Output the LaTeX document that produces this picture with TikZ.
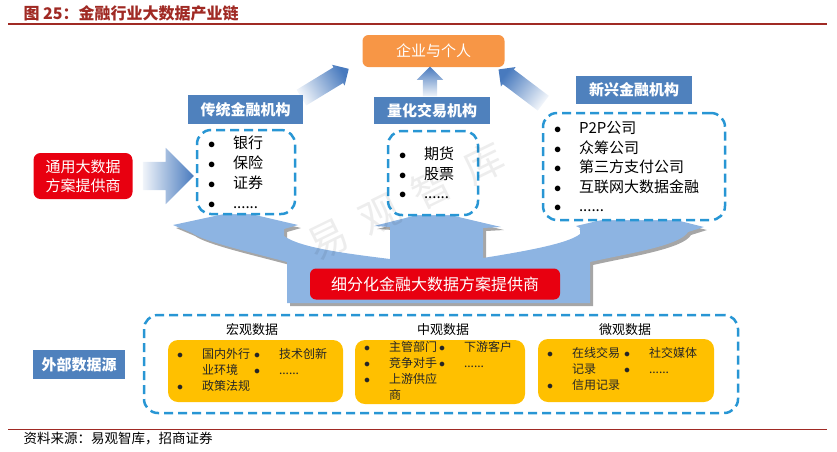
\documentclass[tikz,border=0pt]{standalone}
\usepackage{fontspec}
\setmainfont{Noto Sans CJK SC}
\usepackage{xcolor}
\usetikzlibrary{calc,shapes.arrows,shadows}

\definecolor{titlered}{RGB}{160,42,36}
\definecolor{lblblue}{RGB}{79,129,189}
\definecolor{dashblue}{RGB}{40,150,212}
\definecolor{forkblue}{RGB}{141,180,226}
\definecolor{flowblue}{RGB}{72,122,190}
\definecolor{userorange}{RGB}{247,150,70}
\definecolor{provred}{RGB}{232,0,16}
\definecolor{datayellow}{RGB}{255,192,0}

\newcommand\itm{\makebox[25pt][l]{$\bullet$}}

\begin{document}
\begin{tikzpicture}[x=1pt,y=-1pt,
  lbl/.style={fill=lblblue, text=white, font=\fontsize{15}{18}\selectfont\bfseries, minimum width=116pt, minimum height=28pt, inner sep=0pt},
  dbox/.style={draw=dashblue, line width=2.5pt, dash pattern=on 9pt off 5pt, rounded corners=14pt},
  grp/.style={dbox, fill=white, inner ysep=0pt, inner xsep=11pt, align=left, font=\fontsize{15}{19.5}\selectfont},
  prov/.style={fill=provred, text=white, rounded corners=7pt, inner sep=0pt},
  ydata/.style={fill=datayellow, rounded corners=10pt, inner ysep=0pt, inner xsep=9pt, align=left, text=black!85, font=\fontsize{12}{16}\selectfont},
  hd/.style={font=\fontsize{13}{15}\selectfont},
  flow/.style={single arrow, draw=none, inner xsep=0pt, bottom color=flowblue!8, middle color=flowblue!60, top color=flowblue}]
\useasboundingbox (0,0) rectangle (837,451);
\node[anchor=west, text=titlered, font=\fontsize{16}{18}\selectfont\bfseries] (title) at (20,13) {图\ 25：金融行业大数据产业链};
\draw[titlered, line width=2pt] (8,24) -- (827,24);
\draw[titlered, line width=1pt] (8,429) -- (827,429);
\node[anchor=west, font=\fontsize{13.5}{16}\selectfont] (source) at (20,439) {资料来源：易观智库，招商证券};

\fill[forkblue, drop shadow={shadow xshift=3pt, shadow yshift=-3pt, fill=black!35, opacity=1}]
  (287,303) -- (287,262) .. controls (250,252) and (205,242) .. (192,233) -- (173,225) -- (238,211) -- (298,225) -- (284,229) -- (284,236)
  .. controls (300,248) and (350,254) .. (390,259) -- (390,227) -- (374,226) -- (433,211) -- (501,227) -- (483,228) -- (483,258)
  .. controls (520,252) and (568,244) .. (580,234) -- (580,228) -- (576,226) -- (640,211) -- (704,227) -- (688,232)
  .. controls (680,246) and (625,254) .. (590,262) -- (590,303) -- cycle;

\node[fill=userorange, text=white, rounded corners=6pt, minimum width=142pt, minimum height=32pt, font=\fontsize{15}{18}\selectfont] (user) at (433.5,51) {企业与个人};
\coordinate (l1ne) at (303.5,95);
\coordinate (l2n) at (432,97);
\coordinate (g3nw) at (543,113);
\coordinate (f2a) at ($(l1ne)+(-6,5)$);
\coordinate (f2b) at ($(user.south west)+(-17.5,4)$);
\coordinate (f3a) at ($(l2n)+(-2,3)$);
\coordinate (f3b) at ($(user.south)+(-3.5,3)$);
\coordinate (f4a) at ($(g3nw)+(4,-7)$);
\coordinate (f4b) at ($(user.south east)+(-2.5,5)$);
\foreach \a/\b/\s/\e in {f2a/f2b/9pt/3pt, f3a/f3b/7pt/6pt, f4a/f4b/9pt/3pt}
  \path let \p1=(\a), \p2=(\b), \n1={atan2(\y2-\y1,\x2-\x1)}, \n2={veclen(\x2-\x1,\y2-\y1)} in
    node[flow, inner ysep=\s, single arrow head extend=\e, minimum height=\n2, rotate=\n1, shading angle=\n1-90] at ($(\p1)!0.5!(\p2)$) {};

\node[lbl, minimum width=115pt, minimum height=29pt] (lbl1) at (245.5,109.5) {传统金融机构};
\node[lbl, minimum height=27pt] (lbl2) at (432,110.5) {量化交易机构};
\node[lbl] (lbl3) at (634,90) {新兴金融机构};

\node[grp, text width=76pt, minimum height=84pt, font=\fontsize{15}{20}\selectfont] (grp1) at (246,172) {\itm 银行\\\itm 保险\\\itm 证券\\\itm ......};
\node[grp, text width=68pt, minimum height=84pt] (grp2) at (433,173) {\itm 期货\\\itm 股票\\\itm ......};
\node[grp, text width=160pt, minimum height=107pt] (grp3) at (634,166.5) {\itm P2P公司\\\itm 众筹公司\\\itm 第三方支付公司\\\itm 互联网大数据金融\\\itm ......};

\node[prov, minimum width=99pt, minimum height=46pt, align=center, font=\fontsize{15}{19}\selectfont] (general) at (83,176) {通用大数据\\方案提供商};
\node[prov, rounded corners=6pt, minimum width=250pt, minimum height=31pt, font=\fontsize{16}{18}\selectfont] (segment) at (435,284) {细分化金融大数据方案提供商};

\coordinate (f1a) at ($(general.east)+(3,0)$);
\coordinate (f1b) at ($(grp1.west)+(-9,4)$);
\path let \p1=(f1a), \p2=(f1b), \n1={atan2(\y2-\y1,\x2-\x1)}, \n2={veclen(\x2-\x1,\y2-\y1)} in
  node[flow, inner ysep=14pt, single arrow head extend=14pt, minimum height=\n2, rotate=\n1, shading angle=\n1-90] at ($(\p1)!0.5!(\p2)$) {};

\node[lbl, minimum width=92pt, minimum height=29pt] (ext) at (79,364.5) {外部数据源};
\node[dbox, minimum width=594pt, minimum height=98pt] (extdata) at (441,364) {};
\node[hd] (macrohd) at (252,330) {宏观数据};
\node[hd] (mesohd) at (443,330) {中观数据};
\node[hd] (microhd) at (625,330) {微观数据};
\node[ydata, text width=157pt, minimum height=62pt] (macro) at (255.5,371) {\begin{tabular}{@{}p{77pt}@{}l@{}}\itm 国内外行 & \itm 技术创新\\ \hspace*{25pt}业环境 & \itm ......\\ \itm 政策法规 & \end{tabular}};
\node[ydata, text width=152pt, minimum height=60pt] (meso) at (440,372) {\begin{tabular}{@{}p{75pt}@{}l@{}}\itm 主管部门 & \itm 下游客户\\ \itm 竞争对手 & \itm ......\\ \itm 上游供应 & \\ \hspace*{25pt}商 & \end{tabular}};
\node[ydata, text width=158pt, minimum height=63pt] (micro) at (626,370.5) {\begin{tabular}{@{}p{77pt}@{}l@{}}\itm 在线交易 & \itm 社交媒体\\ \hspace*{25pt}记录 & \itm ......\\ \itm 信用记录 & \end{tabular}};

\node[rotate=26, text=black, opacity=0.07, font=\fontsize{40}{40}\selectfont] (mark) at (406,201) {易\hspace{18pt}观\hspace{18pt}智\hspace{18pt}库};
\end{tikzpicture}
\end{document}
